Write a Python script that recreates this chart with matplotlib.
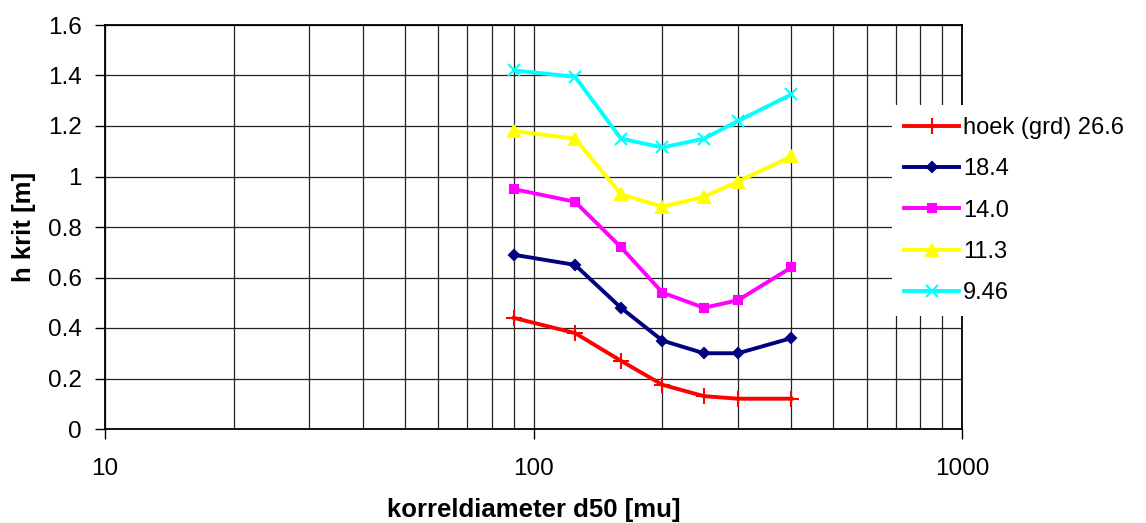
import numpy as np
import matplotlib
matplotlib.use("Agg")
import matplotlib.pyplot as plt
from matplotlib.ticker import LogLocator, FixedLocator, NullFormatter

plt.rcParams['font.family'] = ['Liberation Sans', 'DejaVu Sans']

# korreldiameter d50 [mu]
d50 = [90, 125, 160, 200, 250, 300, 400]

# h krit [m] per hoek (grd)
h_266 = [0.44, 0.38, 0.27, 0.175, 0.13, 0.12, 0.12]
h_184 = [0.69, 0.65, 0.48, 0.35, 0.30, 0.30, 0.36]
h_140 = [0.95, 0.90, 0.72, 0.54, 0.48, 0.51, 0.64]
h_113 = [1.18, 1.15, 0.93, 0.88, 0.92, 0.98, 1.08]
h_946 = [1.42, 1.395, 1.15, 1.115, 1.15, 1.22, 1.325]

labels = ["hoek (grd) 26.6", "18.4", "14.0", "11.3", "9.46"]
series = [h_266, h_184, h_140, h_113, h_946]
colors = ["#ff0000", "#000080", "#ff00ff", "#ffff00", "#00ffff"]
markers = ["+", "D", "s", "^", "x"]
msizes = [11, 5, 6, 8, 8]

fig = plt.figure(figsize=(11.46, 5.23), dpi=100)
ax = fig.add_axes([105 / 1146, 1 - 429 / 523, (962 - 105) / 1146, (429 - 25) / 523])

for y, lab, c, m, ms in zip(series, labels, colors, markers, msizes):
    ax.plot(d50, y, color=c, lw=2.8, marker=m, ms=ms, mew=1.5,
            mfc=c, mec=c, label=lab, zorder=3)

ax.set_xscale("log")
ax.set_xlim(10, 1000)
ax.set_ylim(0, 1.6)
ax.set_yticks(np.arange(0, 1.61, 0.2))
ax.set_yticklabels(["0", "0.2", "0.4", "0.6", "0.8", "1", "1.2", "1.4", "1.6"])
ax.xaxis.set_major_locator(FixedLocator([10, 100, 1000]))
ax.set_xticklabels(["10", "100", "1000"])
ax.xaxis.set_minor_locator(LogLocator(base=10, subs=np.arange(2, 10)))
ax.xaxis.set_minor_formatter(NullFormatter())

ax.grid(True, which="both", axis="x", color="#222222", lw=0.9)
ax.grid(True, which="major", axis="y", color="#222222", lw=0.9)
ax.tick_params(axis="x", which="minor", length=0)
ax.tick_params(axis="x", which="major", length=7, width=1, pad=14, labelsize=17.5)
ax.tick_params(axis="y", length=7, width=1, pad=10, labelsize=17.5)
for s in ax.spines.values():
    s.set_linewidth(1.3)
    s.set_color("black")

ax.set_xlabel("korreldiameter d50 [mu]", fontsize=18.5, fontweight="bold", labelpad=13)
ax.set_ylabel("h krit [m]", fontsize=18.5, fontweight="bold", labelpad=8)

leg = fig.legend(loc="upper left", bbox_to_anchor=(892 / 1146, 1 - 105 / 523),
                 fontsize=17, frameon=True, fancybox=False, handlelength=2.35,
                 handletextpad=0.15, labelspacing=0.82, borderaxespad=0,
                 borderpad=0.5)
leg.get_frame().set_facecolor("white")
leg.get_frame().set_edgecolor("none")
leg.get_frame().set_alpha(1)

fig.savefig("out.png", dpi=100)
